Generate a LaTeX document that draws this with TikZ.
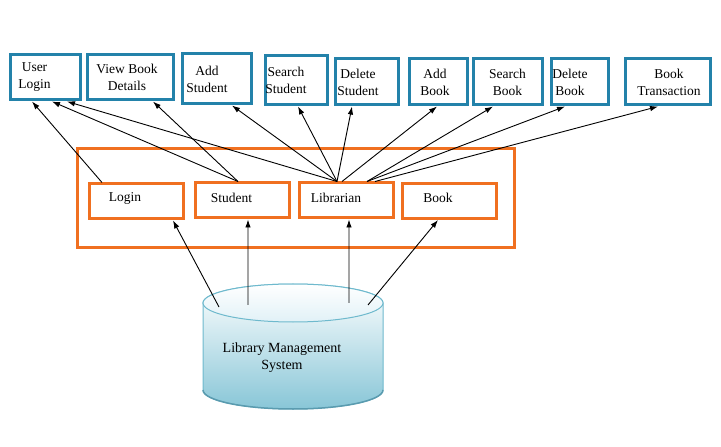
\documentclass[tikz,border=0pt]{standalone}
\usepackage{fontspec}
\setmainfont{Liberation Serif}
\usetikzlibrary{shapes,arrows,arrows.meta}
\usetikzlibrary{positioning,calc}
\definecolor{boxblue}{RGB}{35,130,170}
\definecolor{boxorange}{RGB}{240,112,32}
\definecolor{dbblue}{RGB}{136,198,215}
\definecolor{dbtop}{RGB}{225,241,247}
\definecolor{dbedge}{RGB}{110,185,205}
\definecolor{dbrim}{RGB}{90,155,175}

\begin{document}
\begin{tikzpicture}[>={Latex[length=8bp,width=5.5bp]},x=1bp,y=-1bp,every label/.style={align=center, inner sep=0bp, font={\fontsize{13.5bp}{17bp}\selectfont}}]

\tikzstyle{func} = [draw=boxblue, line width=3bp, fill=white, rectangle, minimum height=46bp];
\tikzstyle{module} = [draw=boxorange, line width=3bp, fill=white, rectangle, minimum height=35bp, minimum width=94bp];
\tikzstyle{linkEdge} = [black, line width=0.9bp, ->];

\useasboundingbox (0,0) rectangle (721,447);

\node[draw=boxorange, line width=3bp, minimum width=436bp, minimum height=99bp, name=panel] at (296,198.5) {};

\node[func, name=ulogin, minimum width=69bp, minimum height=45bp, label={[xshift=-11bp]center:User\\Login}] at (45.5,77.5) {};
\node[func, name=vbook, minimum width=86bp, minimum height=45bp, right of=ulogin, node distance=84.5bp, label={[xshift=-3bp]center:View Book\\Details}] {};
\node[func, name=astud, minimum width=69bp, minimum height=50bp, right of=vbook, node distance=86.5bp, yshift=-1.5bp, label={[xshift=-9.5bp]center:Add\\Student}] {};
\node[func, name=sstud, minimum width=62bp, minimum height=49bp, right of=astud, node distance=79.5bp, yshift=-1.5bp, label={[xshift=-10bp]center:Search\\Student}] {};
\node[func, name=dstud, minimum width=63bp, right of=sstud, node distance=70.5bp, yshift=-1.5bp, label={[xshift=-8.5bp]center:Delete\\Student}] {};
\node[func, name=abook, minimum width=58bp, right of=dstud, node distance=71.5bp, label={[xshift=-3bp]center:Add\\Book}] {};
\node[func, name=sbook, minimum width=69bp, right of=abook, node distance=69.5bp, label={center:Search\\Book}] {};
\node[func, name=dbook, minimum width=57bp, right of=sbook, node distance=72bp, label={[xshift=-9.5bp]center:Delete\\Book}] {};
\node[func, name=trans, minimum width=85bp, right of=dbook, node distance=88bp, label={[xshift=1.5bp]center:Book\\Transaction}] {};

\node[module, name=login, label={[xshift=-11bp, yshift=3bp]center:Login}] at (136,201.5) {};
\node[module, name=student, right of=login, node distance=106bp, yshift=1bp, label={[xshift=-10.5bp, yshift=3bp]center:Student}] {};
\node[module, name=lib, right of=student, node distance=104bp, label={[xshift=-10bp, yshift=3bp]center:Librarian}] {};
\node[module, name=book, right of=lib, node distance=103.5bp, yshift=-0.5bp, label={[xshift=-11.5bp, yshift=3bp]center:Book}] {};

\shadedraw[top color=white, bottom color=dbblue, draw=dbedge, line width=1bp] (203,303) -- (203,390) arc[start angle=180, end angle=360, x radius=90bp, y radius=19bp] -- (383,303) arc[start angle=0, end angle=180, x radius=90bp, y radius=19bp] -- cycle;
\draw[dbrim, line width=1.5bp] (203,390) arc[start angle=180, end angle=360, x radius=90bp, y radius=19bp];
\shadedraw[top color=white, bottom color=dbtop, draw=dbedge, line width=1bp] (293,303) ellipse [x radius=90bp, y radius=19bp];
\node[align=center, font={\fontsize{14bp}{17bp}\selectfont}, name=lms] at (282,358) {Library Management\\System};
\coordinate (db1) at (219,307);
\coordinate (db2) at (248,305);
\coordinate (db3) at (349,303);
\coordinate (db4) at (368,305);

\draw (db1) edge[linkEdge] ([xshift=37bp]login.south);
\draw (db2) edge[linkEdge] ([xshift=6bp]student.south);
\draw (db3) edge[linkEdge] ([xshift=3bp]lib.south);
\draw (db4) edge[linkEdge] ([xshift=-11.5bp]book.south);

\draw ([xshift=-34bp]login.north) edge[linkEdge] ([xshift=-13.5bp]ulogin.south);
\draw ([xshift=-4bp]student.north) edge[linkEdge] ([xshift=6.5bp]ulogin.south);
\draw ([xshift=-4bp]student.north) edge[linkEdge] ([xshift=23bp]vbook.south);
\draw ([xshift=-9bp]lib.north) edge[linkEdge] ([xshift=21.5bp]ulogin.south);
\draw ([xshift=-9bp]lib.north) edge[linkEdge] ([xshift=15.5bp]astud.south);
\draw ([xshift=-9bp]lib.north) edge[linkEdge] ([xshift=2bp]sstud.south);
\draw ([xshift=-9bp]lib.north) edge[linkEdge] ([xshift=-14.5bp]dstud.south);
\draw ([xshift=-4bp]lib.north) edge[linkEdge] ([xshift=-1bp]abook.south);
\draw ([xshift=21bp]lib.north) edge[linkEdge] ([xshift=-14.5bp]sbook.south);
\draw ([xshift=21bp]lib.north) edge[linkEdge] ([xshift=-14.5bp]dbook.south);
\draw ([xshift=29bp]lib.north) edge[linkEdge] ([xshift=-9.5bp]trans.south);
\end{tikzpicture}
\end{document}
